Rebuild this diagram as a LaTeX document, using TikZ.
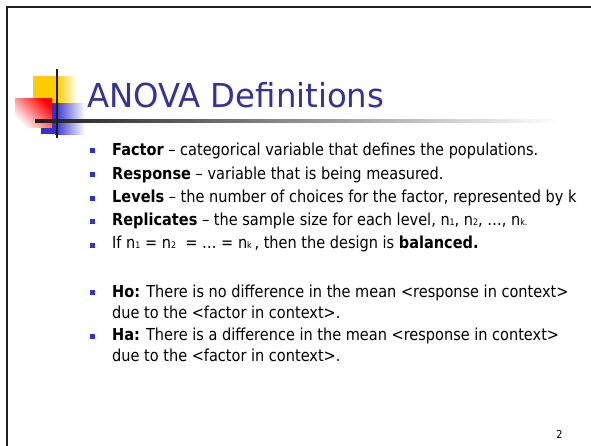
\documentclass[tikz,border=0pt]{standalone}
\usepackage{fontspec}
\setmainfont{DejaVu Sans}[FakeStretch=0.88]
\newfontfamily\titlefam{DejaVu Sans}[FakeStretch=0.98]
\definecolor{titleblue}{RGB}{51,51,153}
\definecolor{logoblue}{RGB}{51,51,204}
\definecolor{logoyellow}{RGB}{255,204,0}
\definecolor{logored}{RGB}{255,0,0}
\definecolor{framegray}{RGB}{30,30,30}
\newcommand\sbs[1]{\raisebox{-0.3pt}{\fontsize{9}{9}\selectfont #1}}
\tikzset{
  bulletsq/.style={rectangle, fill=logoblue, minimum size=5pt, inner sep=0pt},
  txt/.style={anchor=base west, inner sep=0pt, font=\fontsize{16.5}{20}\selectfont},
}
\begin{document}
\begin{tikzpicture}[x=1pt,y=-1pt]
\useasboundingbox (0,0) rectangle (591,445);
\fill[white] (0,0) rectangle (591,445);
% slide frame
\draw[line width=2.5pt, framegray] (7,447) -- (7,7) -- (593,7);
% logo
\fill[logoyellow] (33,76) rectangle (57,103);
\shade[left color=logoyellow, right color=white] (57,76) rectangle (77,103);
\fill[logoblue] (41,103) rectangle (55,134);
\shade[left color=logoblue, right color=white] (55,103) rectangle (85,134);
\shade[shading=axis, top color=logored, bottom color=white, shading angle=-45] (15,98) rectangle (52,127);
\shade[left color=framegray, right color=white] (35,119.6) rectangle (560,122.4);
\draw[line width=2.7pt, framegray] (57,69) -- (57,138);
% title
\node[anchor=base west, inner sep=0pt, text=titleblue, font=\titlefam\fontsize{33}{36}\selectfont] (title) at (87,107) {ANOVA Definitions};
% bullets
\node[bulletsq] (b1) at (92.5,150.5) {};
\node[bulletsq] (b2) at (92.5,174.5) {};
\node[bulletsq] (b3) at (92.5,198.5) {};
\node[bulletsq] (b4) at (92.5,221.5) {};
\node[bulletsq] (b5) at (92.5,245) {};
\node[bulletsq] (b6) at (92.5,292.5) {};
\node[bulletsq] (b7) at (92.5,336) {};
% texts
\node[txt] (t1) at (112,155) {\textbf{Factor} – categorical variable that defines the populations.};
\node[txt] (t2) at (112,179) {\textbf{Response} – variable that is being measured.};
\node[txt] (t3) at (112,202) {\textbf{Levels} – the number of choices for the factor, represented by k};
\node[txt] (t4) at (112,225) {\textbf{Replicates} – the sample size for each level, n\sbs{1}, n\sbs{2}, …, n\sbs{k.}};
\node[txt] (t5) at (112,248) {If n\sbs{1} = n\sbs{2}\ \ = … = n\sbs{k}\,, then the design is \textbf{balanced.}};
\node[txt] (t6) at (112,297) {\textbf{Ho:} There is no difference in the mean <response in context>};
\node[txt] (t6b) at (112,318.5) {due to the <factor in context>.};
\node[txt] (t7) at (112,340) {\textbf{Ha:} There is a difference in the mean <response in context>};
\node[txt] (t7b) at (112,361.5) {due to the <factor in context>.};
% page number
\node[anchor=base, inner sep=0pt, font=\fontsize{11}{11}\selectfont] (pg) at (559.5,438) {2};
\end{tikzpicture}
\end{document}
